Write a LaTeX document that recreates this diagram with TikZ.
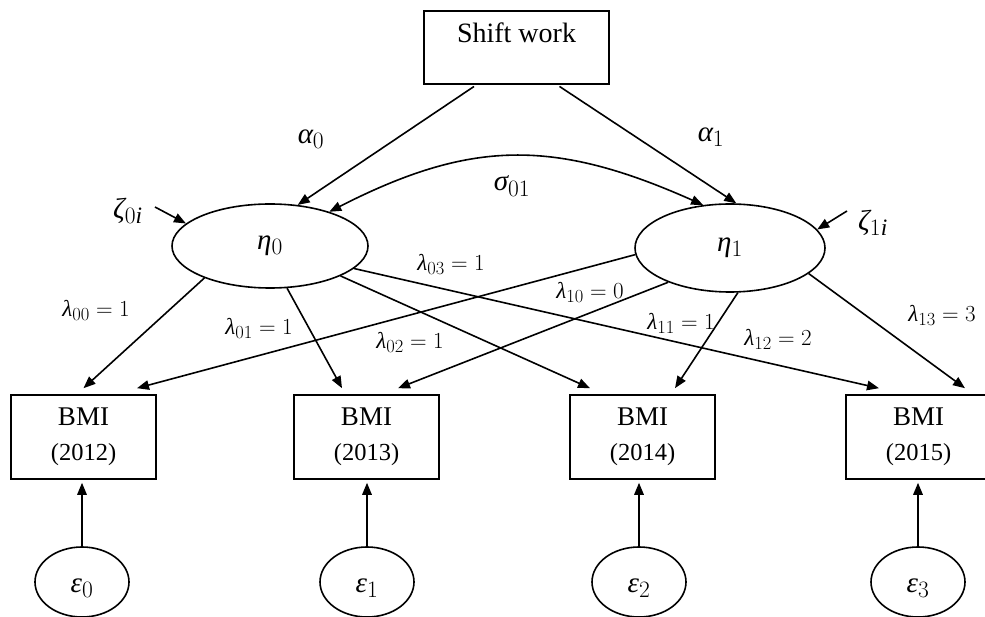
\RequirePackage{fix-cm}
\documentclass[tikz,border=0pt]{standalone}
\usepackage{fontspec}
\setmainfont{Liberation Serif}
\DeclareSymbolFont{grkit}{TU}{\rmdefault}{m}{it}
\DeclareSymbolFont{lsup}{TU}{\rmdefault}{m}{n}
\Umathchardef\galpha="0 \symgrkit "03B1
\Umathchardef\geta="0 \symgrkit "03B7
\Umathchardef\gzeta="0 \symgrkit "03B6
\Umathchardef\gsigma="0 \symgrkit "03C3
\Umathchardef\glambda="0 \symgrkit "03BB
\Umathchardef\gepsilon="0 \symgrkit "03B5
\Umathchardef\gi="0 \symgrkit "0069
\Umathcode`0="0 \symlsup `0
\Umathcode`1="0 \symlsup `1
\Umathcode`2="0 \symlsup `2
\Umathcode`3="0 \symlsup `3
\DeclareMathSizes{29}{29}{23.5}{18}
\DeclareMathSizes{23}{23}{18.5}{14}
\usetikzlibrary{arrows.meta,shapes.geometric}
\begin{document}
\begin{tikzpicture}[x=1pt,y=-1pt,
  every node/.style={inner sep=0pt},
  box/.style={draw, line width=1.6pt, minimum width=145pt, minimum height=84pt, align=center, font=\fontsize{24.5}{35}\selectfont},
  lat/.style={draw, ellipse, line width=1.6pt, minimum width=196pt, minimum height=84pt, font=\fontsize{29}{32}\selectfont},
  err/.style={draw, ellipse, line width=1.6pt, minimum width=94pt, minimum height=70pt, text height=20pt, text depth=0pt, font=\fontsize{29}{32}\selectfont},
  arr/.style={line width=1.6pt, -{Triangle[length=12pt,width=9.5pt]}},
  dbl/.style={line width=1.6pt, {Triangle[length=12pt,width=9.5pt]}-{Triangle[length=12pt,width=9.5pt]}},
  lab/.style={font=\fontsize{29}{32}\selectfont},
  lam/.style={font=\fontsize{23}{26}\selectfont},
]
\useasboundingbox (0,0) rectangle (985,617);
\clip (0,0) rectangle (985,617);

\node[draw, line width=1.6pt, minimum width=185pt, inner xsep=0pt, inner ysep=14pt,
      text height=18pt, text depth=27pt, font=\fontsize{28}{32}\selectfont] (shift) at (516.5,47.5) {Shift work};

\node[lat] (eta0) at (270,246) {$\geta_0$};
\node[lat, minimum width=190pt, minimum height=88pt] (eta1) at (730,248) {$\geta_1$};

\node[box] (bmi0) at (83.5,437) {\fontsize{27}{35}\selectfont BMI\\\fontsize{24.5}{35}\selectfont (2012)};
\node[box] (bmi1) at (366.5,437) {\fontsize{27}{35}\selectfont BMI\\\fontsize{24.5}{35}\selectfont (2013)};
\node[box] (bmi2) at (642.5,437) {\fontsize{27}{35}\selectfont BMI\\\fontsize{24.5}{35}\selectfont (2014)};
\node[box] (bmi3) at (918.5,437) {\fontsize{27}{35}\selectfont BMI\\\fontsize{24.5}{35}\selectfont (2015)};

\node[err] (eps0) at (82,582) {$\gepsilon_0$};
\node[err] (eps1) at (367,582) {$\gepsilon_1$};
\node[err] (eps2) at (639,582) {$\gepsilon_2$};
\node[err] (eps3) at (918,582) {$\gepsilon_3$};

% labels
\node[lab] (a0) at (311,139) {$\galpha_0$};
\node[lab] (a1) at (711,137) {$\galpha_1$};
\node[lab] (s01) at (512,186) {$\gsigma_{01}$};
\node[lab] (z0) at (128,211) {$\gzeta_{0\gi}$};
\node[lab] (z1) at (873,223) {$\gzeta_{1\gi}$};
\node[lam] (l00) at (96,310) {$\glambda_{00}=1$};
\node[lam] (l01) at (259,328) {$\glambda_{01}=1$};
\node[lam] (l02) at (410,342) {$\glambda_{02}=1$};
\node[lam] (l03) at (451,264) {$\glambda_{03}=1$};
\node[lam] (l10) at (590,292) {$\glambda_{10}=0$};
\node[lam] (l11) at (681,323) {$\glambda_{11}=1$};
\node[lam] (l12) at (778,339) {$\glambda_{12}=2$};
\node[lam] (l13) at (942,315) {$\glambda_{13}=3$};

% structural paths
\draw[arr, shorten <=3pt] ([xshift=-40pt]shift.south) -- (eta0.56);
\draw[arr, shorten <=3pt] ([xshift=40.5pt]shift.south) -- (eta1.82);
\draw[dbl] (eta1.122) .. controls (553,138) and (470,140) .. (eta0.30);

% disturbances
\coordinate (z0s) at (155,207);
\coordinate (z1s) at (847,211);
\draw[arr] (z0s) -- (eta0.165);
\draw[arr] (z1s) -- (eta1.12);

% loadings
\draw[arr] (eta0.-154) -- ([yshift=6pt]bmi0.north);
\draw[arr] (eta0.-68) -- ([xshift=-24.5pt,yshift=6pt]bmi1.north);
\draw[arr] (eta0.-23) -- ([xshift=-52.5pt,yshift=6pt]bmi2.north);
\draw[arr] (eta0.-15) -- ([xshift=-39.5pt,yshift=6pt]bmi3.north);
\draw[arr] (eta1.-176) -- ([xshift=53.5pt,yshift=6pt]bmi0.north);
\draw[arr] (eta1.-151) -- ([xshift=31.5pt,yshift=6pt]bmi1.north);
\draw[arr] (eta1.-80) -- ([xshift=32.5pt,yshift=6pt]bmi2.north);
\draw[arr] (eta1.-18) -- ([xshift=46.5pt,yshift=6pt]bmi3.north);

% errors
\draw[arr, shorten >=3pt] (eps0.north) -- (eps0.north |- bmi0.south);
\draw[arr, shorten >=3pt] (eps1.north) -- (eps1.north |- bmi1.south);
\draw[arr, shorten >=3pt] (eps2.north) -- (eps2.north |- bmi2.south);
\draw[arr, shorten >=3pt] (eps3.north) -- (eps3.north |- bmi3.south);
\end{tikzpicture}
\end{document}
